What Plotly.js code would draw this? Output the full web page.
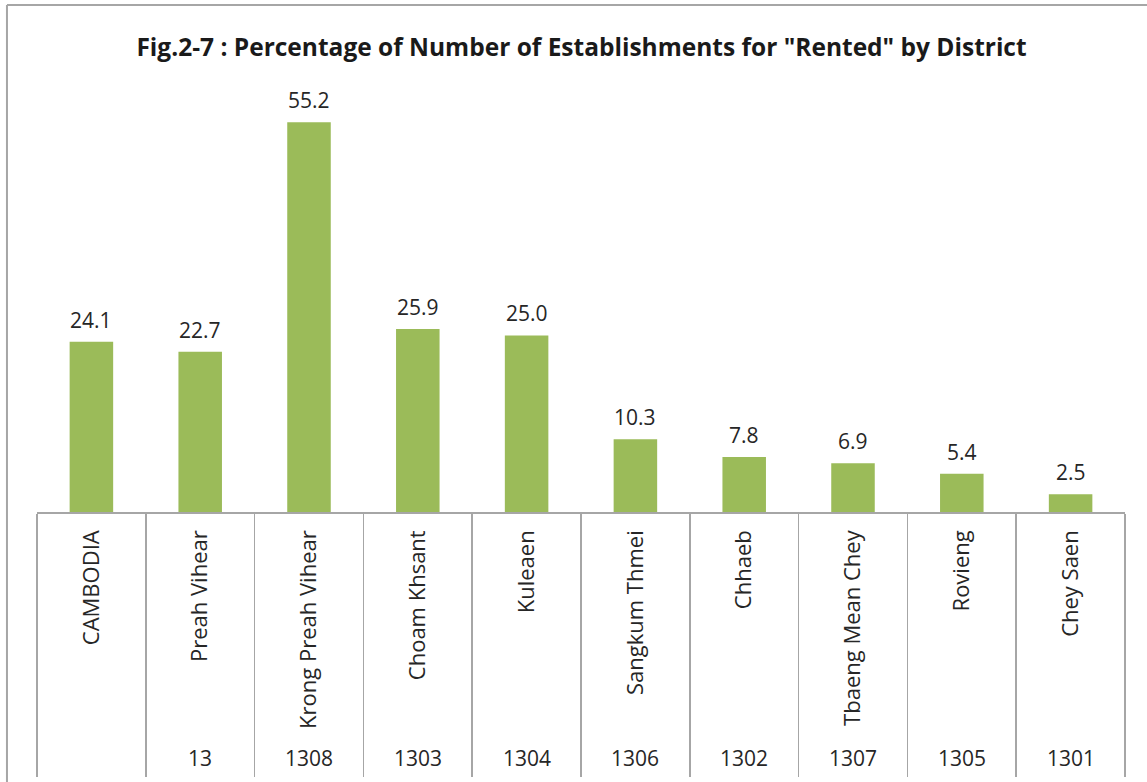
<!DOCTYPE html>
<html><head><meta charset="utf-8">
<script src="https://cdn.plot.ly/plotly-3.0.1.min.js"></script>
<style>html,body{margin:0;padding:0;background:#fff}#c{width:1147px;height:782px}</style>
</head><body><div id="c"></div>
<script>
const categories = ["CAMBODIA","Preah Vihear","Krong Preah Vihear","Choam Khsant","Kuleaen","Sangkum Thmei","Chhaeb","Tbaeng Mean Chey","Rovieng","Chey Saen"];
const values = [24.1,22.7,55.2,25.9,25.0,10.3,7.8,6.9,5.4,2.5];
const codes = ["","13","1308","1303","1304","1306","1302","1307","1305","1301"];

const fam = "'Open Sans', sans-serif";
const annotations = [];
values.forEach((v,i)=>{
  annotations.push({x:categories[i], y:v, xref:'x', yref:'y', text:v.toFixed(1), showarrow:false,
    yanchor:'bottom', yshift:6, font:{family:fam, size:21, color:'#262626'}});
  if (codes[i]) annotations.push({x:categories[i], y:-0.544, xref:'x', yref:'paper', text:codes[i], showarrow:false,
    yanchor:'middle', font:{family:fam, size:21, color:'#262626'}});
});
const shapes = [
  {type:'line', xref:'paper', yref:'paper', x0:-0.0276, x1:1.03, y0:1.1217, y1:1.1217, line:{color:'#A6A6A6', width:2}},
  {type:'line', xref:'paper', yref:'paper', x0:-0.0276, x1:-0.0276, y0:1.1217, y1:-0.6, line:{color:'#A6A6A6', width:2}}
];
Plotly.newPlot('c', [{
  type:'bar', x:categories, y:values, marker:{color:'#9BBB59'}, width:0.4, hoverinfo:'none'
}], {
  width:1147, height:782,
  margin:{l:37, r:22, t:60, b:270},
  paper_bgcolor:'#fff', plot_bgcolor:'#fff',
  title:{text:'<b>Fig.2-7 : Percentage of Number of Establishments for "Rented" by District</b>',
    xref:'container', x:0.507, xanchor:'center', yref:'container', y:1-47/782, yanchor:'middle',
    font:{family:fam, size:24.5, color:'#1a1a1a'}},
  xaxis:{type:'category', tickangle:-90, tickson:'boundaries', ticks:'outside', ticklen:263, tickcolor:'#A6A6A6', tickwidth:1.5,
    ticklabelstandoff:8,
    showline:true, linecolor:'#A6A6A6', linewidth:1.5, tickfont:{family:fam, size:22, color:'#262626'}, fixedrange:true},
  yaxis:{range:[0,64], visible:false, showgrid:false, zeroline:false, fixedrange:true},
  annotations:annotations, shapes:shapes, showlegend:false
}, {displayModeBar:false, staticPlot:true});
</script></body></html>
